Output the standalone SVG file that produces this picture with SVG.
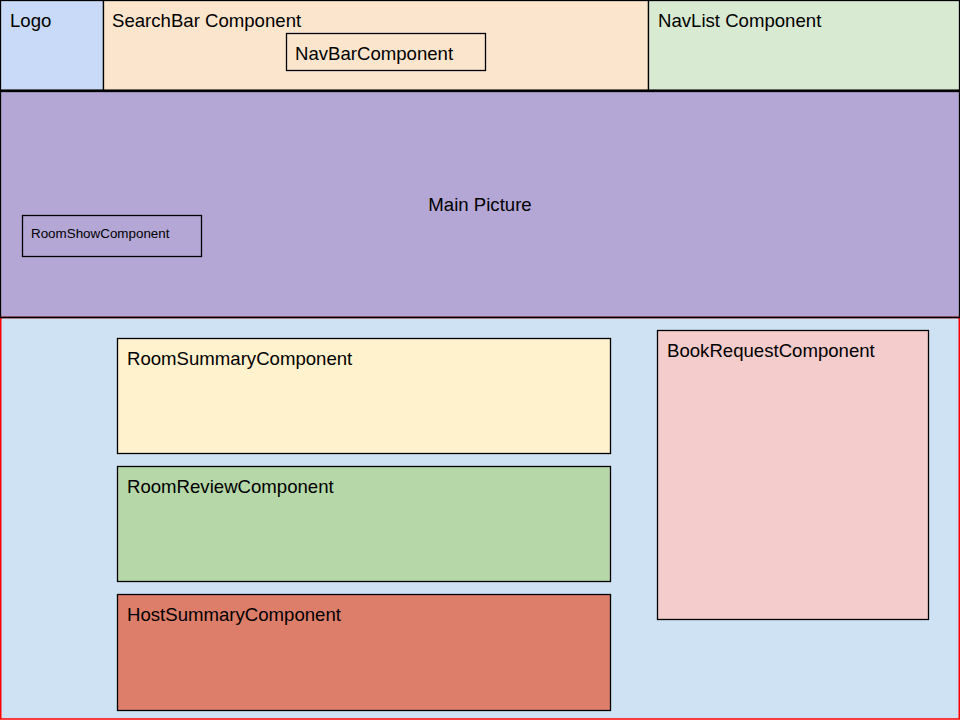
<svg xmlns="http://www.w3.org/2000/svg" width="960" height="720" viewBox="0 0 960 720">
<style>
text{font-family:"Liberation Sans",Arial,sans-serif;fill:#000;font-size:18.6px}
.b{stroke:#000;stroke-width:1.3}
.s{font-size:13.4px}
</style>
<rect x="0" y="0" width="960" height="720" fill="#fff"/>
<g id="logo"><rect class="b" x="0.5" y="0.5" width="103" height="90" fill="#c9daf8"/><text x="10" y="27">Logo</text></g>
<g id="searchbar"><rect class="b" x="103.5" y="0.5" width="545" height="90" fill="#fce5cd"/><text x="112" y="27">SearchBar Component</text></g>
<g id="navbar"><rect class="b" x="286.5" y="33.5" width="199" height="37" fill="none"/><text x="295" y="60">NavBarComponent</text></g>
<g id="navlist"><rect class="b" x="648.5" y="0.5" width="311" height="90" fill="#d9ead3"/><text x="658" y="27">NavList Component</text></g>
<line x1="0" y1="90.5" x2="960" y2="90.5" stroke="#000" stroke-width="2"/>
<g id="main"><rect class="b" x="0.5" y="91.5" width="959" height="226" fill="#b4a7d6"/><text x="480" y="211" text-anchor="middle">Main Picture</text></g>
<g id="roomshow"><rect class="b" x="22.5" y="215.5" width="179" height="41" fill="none"/><text class="s" x="31" y="238">RoomShowComponent</text></g>
<g id="content"><rect x="0.75" y="317.5" width="958.5" height="401.5" fill="#cfe2f3" stroke="#ff0000" stroke-width="1.5"/><line x1="0" y1="317.5" x2="960" y2="317.5" stroke="#000" stroke-width="1.3"/></g>
<g id="roomsummary"><rect class="b" x="117.5" y="338.5" width="493" height="115" fill="#fff2cc"/><text x="127" y="365">RoomSummaryComponent</text></g>
<g id="roomreview"><rect class="b" x="117.5" y="466.5" width="493" height="115" fill="#b6d7a8"/><text x="127" y="493">RoomReviewComponent</text></g>
<g id="hostsummary"><rect class="b" x="117.5" y="594.5" width="493" height="116" fill="#dd7e6b"/><text x="127" y="621">HostSummaryComponent</text></g>
<g id="bookrequest"><rect class="b" x="657.5" y="330.5" width="271" height="289" fill="#f4cccc"/><text x="667" y="357">BookRequestComponent</text></g>
<g id="connectors"></g>
</svg>
